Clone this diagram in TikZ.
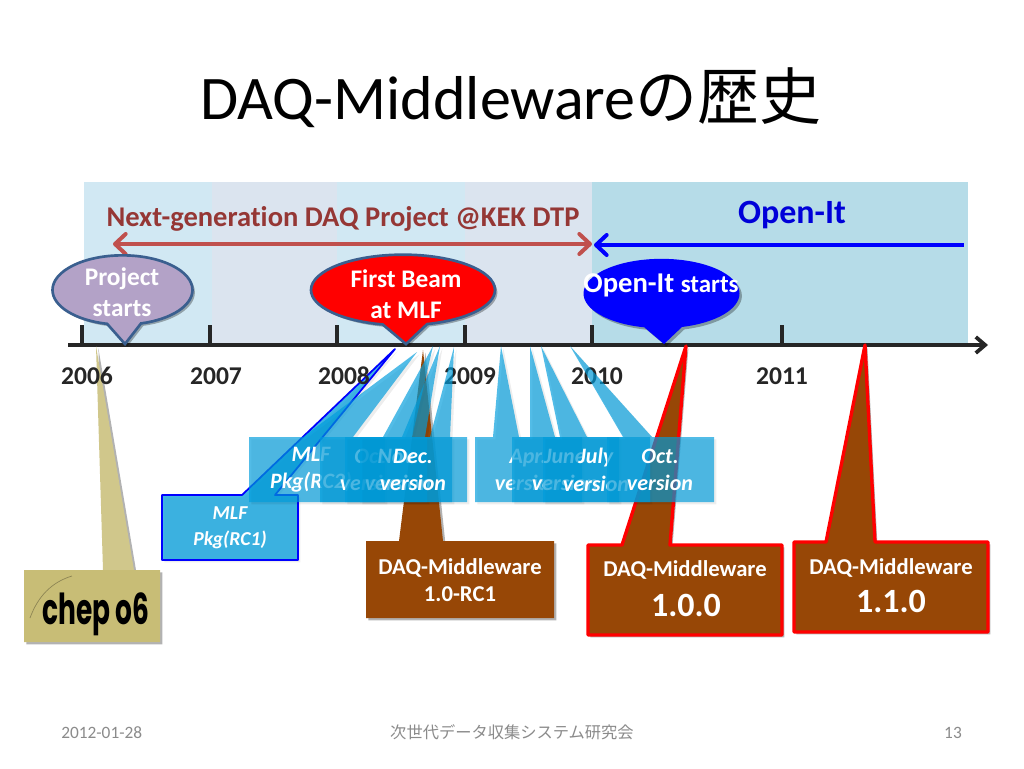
\documentclass[tikz,border=0pt]{standalone}
\usepackage{fontspec}
\usepackage{graphicx}
\setmainfont[Ligatures=CommonOff]{Carlito}
\newfontfamily\cjk{Noto Sans CJK JP}
\newfontfamily\logofont{Poppins}
\usetikzlibrary{arrows.meta,shadows,shapes.callouts}
\definecolor{panelA}{HTML}{D1E8F3}
\definecolor{panelB}{HTML}{DBE4EF}
\definecolor{panelC}{HTML}{B6DCE8}
\definecolor{axisc}{HTML}{262626}
\definecolor{redtxt}{HTML}{953735}
\definecolor{redarr}{HTML}{C0504D}
\definecolor{purp}{HTML}{B3A2C7}
\definecolor{edgeblue}{HTML}{3A5F8F}
\definecolor{cyanbox}{HTML}{009DDC}
\definecolor{brownbox}{HTML}{974706}
\definecolor{khaki}{HTML}{C8BD76}
\definecolor{footgrey}{HTML}{8B8B8B}
\tikzset{
  x=0.75pt,y=-0.75pt,
  shade1/.style={drop shadow={shadow xshift=1.8pt,shadow yshift=-1.8pt,opacity=.3,fill=black}},
  shadelight/.style={drop shadow={shadow xshift=1.8pt,shadow yshift=-1.8pt,opacity=.07,fill=black}},
  yearlab/.style={font=\bfseries\fontsize{19.2}{22}\selectfont,text=axisc,inner sep=0pt},
  whitelab/.style={font=\bfseries\fontsize{17}{20.5}\selectfont,text=white,align=center,inner sep=0pt},
  bubblelab/.style={font=\bfseries\fontsize{19}{23.3}\selectfont,text=white,align=center,inner sep=0pt},
  italab/.style={font=\bfseries\itshape\fontsize{16.5}{20.5}\selectfont,text=white,align=center,inner sep=0pt},
  bluecall/.style={fill=cyanbox,fill opacity=.68,shadelight},
  browncall/.style={fill=brownbox,shade1},
  browncallred/.style={fill=brownbox,draw=red,line width=2.5pt,line join=round,shade1},
  foot/.style={font=\fontsize{13}{15}\selectfont,text=footgrey,inner sep=0pt},
  bubble/.style={ellipse callout,inner sep=0pt,callout pointer arc=28,shade1},
}
\begin{document}
\begin{tikzpicture}
\useasboundingbox[fill=white] (0,0) rectangle (1024,768);
% panels
\fill[panelA] (84,182) rectangle (212,345);
\fill[panelB] (212,182) rectangle (337,345);
\fill[panelA] (337,182) rectangle (465,345);
\fill[panelB] (465,182) rectangle (592,345);
\fill[panelC] (592,182) rectangle (968,345);
% title
\node[inner sep=0pt,anchor=center,font=\fontsize{46.5}{50}\selectfont] (title) at (511,98) {DAQ-Middleware{\cjk の歴史}};
% project labels
\node[inner sep=0pt,font=\bfseries\fontsize{21.4}{24}\selectfont,text=redtxt] (proj) at (343,219) {Next-generation DAQ Project @KEK DTP};
\node[inner sep=0pt,font=\bfseries\fontsize{25.5}{28}\selectfont,text=blue!85!black] (openit) at (792,215) {Open-It};
\coordinate (pl) at (113,244); \coordinate (pr) at (592,244);
\coordinate (ol) at (594,245); \coordinate (or) at (964,245);
\draw[redarr,line width=3pt,{Straight Barb[round,length=8pt,width=15pt]}-{Straight Barb[round,length=8pt,width=15pt]}] (pl) -- (pr);
\draw[blue,line width=3pt,{Straight Barb[round,length=8pt,width=15pt]}-] (ol) -- (or);
% axis
\coordinate (ax0) at (68,345); \coordinate (ax1) at (988,345);
\draw[axisc,line width=2.8pt,-{Straight Barb[length=7pt,width=12pt]}] (ax0) -- (ax1);
\foreach \n/\t in {a/82,b/210,c/337,d/465,e/592,f/782}{
  \coordinate (t\n) at (\t,325); \coordinate (u\n) at (\t,345);
  \draw[axisc,line width=2.8pt] (t\n) -- (u\n);
}
% brown callouts and logo (below the blue ones)
\path[fill=khaki!85!white,shade1] (24,570) -- (103,570) -- (96,346) -- (134,570) -- (160,570) -- (160,642) -- (24,642) -- cycle;
\fill[khaki] (24,570) rectangle (160,642);
\draw[khaki!70!black,line width=.5pt] (30,618) .. controls (38,596) and (52,582) .. (72,576);
\node[inner sep=0pt,font=\logofont\bfseries\fontsize{32}{32}\selectfont,text=black] (chep) at (96,614) {\scalebox{.62}[1]{chep\kern6pt o6}};
\path[browncall] (366,541) -- (399,541) -- (423,350) -- (443,541) -- (554,541) -- (554,618) -- (366,618) -- cycle;
\node[whitelab] (rc1) at (460,580) {DAQ-Middleware\\1.0-RC1};
\path[browncallred] (588,545) -- (622,545) -- (686,346) -- (670,545) -- (782,545) -- (782,635) -- (588,635) -- cycle;
\node[whitelab] (v100a) at (685,570) {DAQ-Middleware};
\node[inner sep=0pt,font=\bfseries\fontsize{25.5}{28}\selectfont,text=white] (v100b) at (686,605) {1.0.0};
\path[browncallred] (794,542) -- (826,542) -- (865,345) -- (875,542) -- (988,542) -- (988,632) -- (794,632) -- cycle;
\node[whitelab] (v110a) at (891,568) {DAQ-Middleware};
\node[inner sep=0pt,font=\bfseries\fontsize{25.5}{28}\selectfont,text=white] (v110b) at (891,601) {1.1.0};
% MLF RC1 (below the other blue callouts)
\path[fill=cyanbox,fill opacity=.75,draw=blue,line width=1.3pt,line join=round,shadelight] (162,495) -- (242,495) -- (395,349) -- (275,495) -- (298,495) -- (298,560) -- (162,560) -- cycle;
\node[font=\bfseries\itshape\fontsize{14.8}{19.5}\selectfont,text=white,align=center,inner sep=0pt] (c1) at (230,528) {MLF\\Pkg(RC1)};
% years
\node[yearlab] (y06) at (87,376) {2006};
\node[yearlab] (y07) at (216,376) {2007};
\node[yearlab] (y08) at (344,376) {2008};
\node[yearlab] (y09) at (470,376) {2009};
\node[yearlab] (y10) at (597,376) {2010};
\node[yearlab] (y11) at (782,376) {2011};
% bubbles
\node[bubble,draw=edgeblue,line width=2pt,fill=purp,minimum width=105pt,minimum height=52pt,callout absolute pointer={(125,344)}] (b1) at (122.5,290) {};
\node[bubblelab] (b1t) at (122,292) {Project\\starts};
\node[bubble,draw=edgeblue,line width=2pt,fill=red,minimum width=138pt,minimum height=53pt,callout absolute pointer={(406,344)}] (b2) at (403,290) {};
\node[bubblelab] (b2t) at (406,294) {First Beam\\at MLF};
\node[bubble,fill=blue,minimum width=117pt,minimum height=52pt,callout absolute pointer={(664,344)}] (b3) at (661.5,293.5) {};
\node[inner sep=0pt,text=white,font=\bfseries\fontsize{21.5}{24}\selectfont] (b3t) at (661,285) {Open-It {\fontsize{18.7}{20}\selectfont starts}};
% blue callouts, left group
\path[bluecall] (249,437) -- (303,437) -- (417,352) -- (353,437) -- (385,437) -- (385,502) -- (249,502) -- cycle;
\node[italab] (c2) at (311,470) {MLF\\Pkg(RC2)};
\path[bluecall] (320,437) -- (383,437) -- (433,346) -- (412,437) -- (427,437) -- (427,502) -- (320,502) -- cycle;
\node[italab] (c3) at (373,470) {Oct.\\version};
\path[bluecall] (345,437) -- (402,437) -- (440,346) -- (425,437) -- (452,437) -- (452,502) -- (345,502) -- cycle;
\node[italab] (c4) at (398,470) {Nov.\\version};
\path[bluecall] (360,437) -- (430,437) -- (454,347) -- (450,437) -- (467,437) -- (467,502) -- (360,502) -- cycle;
\node[italab] (c5) at (413,470) {Dec.\\version};
% blue callouts, right group
\path[bluecall] (475,437) -- (493,437) -- (501,346) -- (519,437) -- (582,437) -- (582,502) -- (475,502) -- cycle;
\node[italab] (c6) at (528,470) {Apr.\\version};
\path[bluecall] (512,437) -- (530,437) -- (530,346) -- (555,437) -- (619,437) -- (619,502) -- (512,502) -- cycle;
\node[italab] (c7) at (565,470) {June\\version};
\path[bluecall] (543,437) -- (560,437) -- (541,346) -- (587,437) -- (650,437) -- (650,502) -- (543,502) -- cycle;
\node[italab] (c8) at (596,470) {July\\version};
\path[bluecall] (607,437) -- (623,437) -- (570,346) -- (652,437) -- (714,437) -- (714,502) -- (607,502) -- cycle;
\node[italab] (c9) at (660,470) {Oct.\\version};
% footer
\node[foot,anchor=west] (f1) at (61,733) {2012-01-28};
\node[foot,font=\cjk\fontsize{12.2}{15}\selectfont] (f2) at (512,732) {次世代データ収集システム研究会};
\node[foot] (f3) at (953,733) {13};
\end{tikzpicture}
\end{document}
